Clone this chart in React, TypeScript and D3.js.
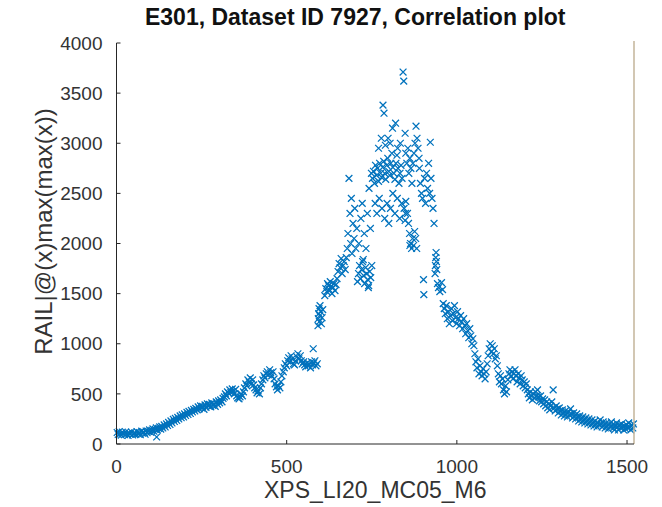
import React from "react";
import * as d3 from "d3";

const titleText = "E301, Dataset ID 7927, Correlation plot";
const xLabel = "XPS_LI20_MC05_M6";
const yLabel = "RAIL|@(x)max(max(x))";
const xTicks = [0, 500, 1000, 1500];
const yTicks = [0, 500, 1000, 1500, 2000, 2500, 3000, 3500, 4000];

const segLow: [number, number][] = [
  [2,115],[5,95],[8,125],[11,100],[14,88],[17,118],[20,105],[24,92],[27,120],[30,100],[34,85],[37,110],[40,98],[44,120],[47,90],[50,105],[54,112],[57,95],[60,125],[64,100],[67,115],[70,92],[74,128],[77,108],[80,118],[84,97],[87,130],[90,112],[94,125],[97,140],[100,118],[104,135],[107,150],[110,128],[114,145],[117,160],[118,70],[120,138],[124,155],[127,170],[130,148],
];
const segRise: [number, number][] = [
  [133,175],[136,160],[140,190],[143,170],[147,200],[150,185],[153,215],[157,195],[160,230],[163,210],[167,245],[170,225],[173,255],[177,235],[180,265],[183,250],[187,280],[190,262],[193,290],[197,270],[200,300],[203,285],[207,315],[210,295],[213,325],[217,305],[220,335],[223,320],[227,345],[230,330],[233,355],[237,340],[240,370],[243,350],[247,380],[250,360],[253,375],[257,345],[260,390],[263,365],[267,400],[270,380],[273,395],[277,370],[280,410],[283,385],[287,400],[290,375],[293,420],[297,395],[300,430],
  [303,410],[306,440],[310,420],[313,455],[317,470],[320,500],[323,480],[326,520],[330,505],[333,540],[336,515],[340,550],[343,525],[346,500],[350,545],[353,480],[356,460],[360,450],[363,470],[366,500],[370,480],[373,520],[376,560],[380,600],[383,580],[386,640],[390,620],[393,660],[396,600],[400,640],[403,590],[406,560],[410,540],[413,510],[416,530],[420,500],[423,560],[426,600],[430,640],[433,680],[436,660],[440,700],[443,720],[446,690],[450,740],[453,710],[456,680],[460,720],[463,650],[466,600],[470,570],[473,540],[476,580],[480,560],[483,620],[486,680],[490,720],[493,760],[496,800],[500,780],[503,830],[506,860],[510,820],[513,880],[516,850],[520,800],[523,790],[526,830],[530,870],[533,900],[536,850],[540,880],[543,830],[546,800],[550,820],[553,790],[556,770],[560,810],[563,780],[566,800],[570,760],[573,820],[576,790],[578,950],[580,810],[583,830],[586,780],[590,800],
];
const segPeakLeft: [number, number][] = [
  [592,1180],[593,1250],[594,1300],[595,1350],[596,1220],[597,1280],[598,1380],[600,1320],[602,1200],[604,1260],[606,1340],
  [612,1480],[615,1550],[618,1520],[620,1600],[623,1580],[625,1540],[628,1620],[630,1570],[633,1500],[636,1560],[639,1600],[642,1530],[645,1590],[648,1650],
  [651,1720],[654,1800],[657,1760],[660,1850],[663,1700],[666,1780],[669,1820],[672,1740],[675,1860],
  [678,1950],[680,2100],[683,2650],[686,2300],[688,2000],[690,2450],[692,1900],[695,2200],[698,2050],[700,2350],[703,1950],[706,2150],
  [708,1620],[711,1700],[714,1780],[717,1650],[720,1740],[723,1820],[726,1680],[729,1600],[732,1760],[735,1700],[738,1640],[741,1580],[744,1720],[747,1660],[750,1780],[740,1560],[725,1840],
  [712,2000],[718,2250],[722,2400],[728,2100],[733,1950],[737,2300],[742,2550],[746,2150],[749,2700],
];
const segPeak: [number, number][] = [
  [752,2650],[755,2720],[758,2600],[761,2780],[764,2680],[767,2750],[770,2620],[773,2800],[776,2700],[779,2660],[782,2760],[785,2820],[788,2700],[791,2640],[794,2780],[797,2850],[800,2720],[803,2680],[806,2800],[809,2900],[812,2760],[815,2700],[818,2640],[821,2800],[824,2880],[827,2750],[830,2600],[833,2700],[836,2780],[839,2650],
  [770,2950],[778,3050],[783,3380],[786,3300],[790,2980],[798,3050],[804,3000],[811,3150],[820,3200],[826,2950],[834,3000],[842,3710],[844,3620],[848,3100],
  [760,2400],[765,2300],[772,2450],[780,2350],[788,2250],[795,2400],[800,2200],[805,2350],[812,2500],[818,2300],[825,2450],[832,2250],[838,2400],[845,2350],[848,2230],[849,2300],[850,2420],
  [850,2900],[853,2800],[856,2950],[859,2700],[862,2850],[865,2750],[868,2600],[871,2800],[874,2900],[877,3000],[880,3170],[883,3050],[886,2950],[889,2850],
  [855,2300],[858,2200],[861,2100],[862,1980],[864,2000],[867,1950],[870,2050],[873,1980],[876,2120],[879,2050],[882,1950],
];
const segPeakRight: [number, number][] = [
  [890,2750],[893,2600],[896,2500],[899,2450],[902,1640],[903,1490],[905,2650],[908,2400],[911,2700],[914,2550],[917,2800],[920,2500],[922,3010],[924,2650],[927,2450],[930,2350],[933,2200],
  [936,1700],[937,1780],[938,1860],[939,1910],[940,1820],[941,1740],[943,1600],[946,1560],[950,1520],[955,1610],[958,1540],
  [960,1400],[963,1350],[966,1300],[969,1380],[972,1250],[975,1320],[978,1200],[981,1280],[984,1350],[987,1230],[990,1300],[993,1380],[996,1260],[999,1200],[1002,1320],[1005,1250],[1008,1180],[1011,1280],[1014,1220],[1017,1150],[1020,1250],[1023,1180],[1026,1100],[1029,1200],[1032,1130],[1035,1060],[1038,1150],[1041,1080],[1044,1000],[1047,1050],[1050,980],
];
const segTail: [number, number][] = [
  [1053,900],[1056,820],[1059,760],[1062,850],[1065,700],[1068,780],[1071,720],[1074,680],[1077,750],[1080,700],[1083,650],[1086,720],[1089,800],[1092,880],[1095,950],[1098,1000],[1101,920],[1104,980],[1107,900],[1110,950],[1113,850],[1116,880],[1119,780],[1122,700],[1125,620],[1128,680],[1131,600],[1134,650],[1137,540],[1140,500],[1143,580],[1146,520],[1150,640],[1153,700],[1156,740],[1159,680],[1162,720],[1165,650],[1168,700],[1171,740],[1174,680],[1177,620],[1180,700],[1183,660],[1186,600],[1189,680],[1192,640],[1195,580],[1198,620],[1201,560],[1204,600],[1207,540],[1210,500],[1213,460],[1216,520],[1219,480],[1222,440],[1225,500],[1228,460],[1231,520],[1234,480],[1237,540],[1240,470],[1243,430],[1246,480],[1249,420],[1252,450],[1255,400],[1258,440],[1261,380],[1264,420],[1267,360],[1270,400],[1273,340],[1276,380],[1279,420],[1283,540],[1286,360],[1289,330],[1292,380],[1295,350],[1298,310],[1301,360],[1304,330],[1307,290],[1310,340],[1313,310],[1316,280],[1319,330],[1322,300],[1325,270],[1328,320],[1331,290],[1334,350],[1337,300],[1340,260],[1343,310],[1346,280],[1349,250],[1352,300],[1355,270],[1358,230],[1361,280],[1364,250],[1367,220],[1370,270],[1373,240],[1376,210],[1379,260],[1382,230],[1385,200],[1388,250],[1391,220],[1394,190],[1397,240],[1400,210],[1403,180],[1406,230],[1409,200],[1412,170],[1415,210],[1418,190],[1421,240],[1424,200],[1427,170],[1430,220],[1433,190],[1436,160],[1439,210],[1442,180],[1445,150],[1448,200],[1451,170],[1454,220],[1457,190],[1460,160],[1463,140],[1466,180],[1469,210],[1472,170],[1475,140],[1478,190],[1481,160],[1484,200],[1487,170],[1490,140],[1493,180],[1496,150],[1499,190],[1502,160],[1505,210],[1508,170],[1511,140],[1514,190],[1517,160],[1519,200],
];

const W = 662, H = 507;
const left = 116.5, right = 634, top = 43, bottom = 444;
const font = "'Liberation Sans', Arial, Helvetica, sans-serif";
const blue = "#0072BD";
const axisColor = "#262626";

export default function App() {
  const x = d3.scaleLinear().domain([0, 1520.5]).range([left, right]);
  const y = d3.scaleLinear().domain([0, 4000]).range([bottom, top]);
  const pts = [...segLow, ...segRise, ...segPeakLeft, ...segPeak, ...segPeakRight, ...segTail];
  const s = 3.4;
  const marker = `M${-s},${-s}L${s},${s}M${-s},${s}L${s},${-s}`;
  return (
    <svg width={W} height={H} style={{ position: "absolute", left: 0, top: 0, background: "#fff" }}>
      <rect x={0} y={0} width={W} height={H} fill="#fff" />
      <g>
        {pts.map((p, i) => (
          <path key={i} d={marker} transform={`translate(${x(p[0])},${y(p[1])})`} stroke={blue} strokeWidth={1.25} fill="none" />
        ))}
      </g>
      <line x1={right} x2={right} y1={top - 2} y2={bottom} stroke="#c3b49a" strokeWidth={1.5} />
      <line x1={left} x2={left} y1={top} y2={bottom} stroke={axisColor} strokeWidth={1} />
      <line x1={left} x2={right} y1={bottom} y2={bottom} stroke={axisColor} strokeWidth={1} />
      {yTicks.map((t) => (
        <g key={"y" + t}>
          <line x1={left} x2={left + 4} y1={y(t)} y2={y(t)} stroke={axisColor} />
          <text x={left - 14} y={y(t)} dy="0.35em" textAnchor="end" fontFamily={font} fontSize={19} fill="#333">{t}</text>
        </g>
      ))}
      {xTicks.map((t) => (
        <g key={"x" + t}>
          <line x1={x(t)} x2={x(t)} y1={bottom} y2={bottom - 4} stroke={axisColor} />
          <text x={x(t)} y={466} dy="0.35em" textAnchor="middle" fontFamily={font} fontSize={19} fill="#333">{t}</text>
        </g>
      ))}
      <text x={(left + right) / 2} y={490} dy="0.35em" textAnchor="middle" fontFamily={font} fontSize={23} fill="#333">{xLabel}</text>
      <text transform={`translate(44,${(top + bottom) / 2 - 12}) rotate(-90)`} textAnchor="middle" dy="0.35em" fontFamily={font} fontSize={24} fill="#333">{yLabel}</text>
      <text x={(left + right) / 2 - 20} y={17} dy="0.35em" textAnchor="middle" fontFamily={font} fontSize={23} fontWeight="bold" fill="#111">{titleText}</text>
    </svg>
  );
}
